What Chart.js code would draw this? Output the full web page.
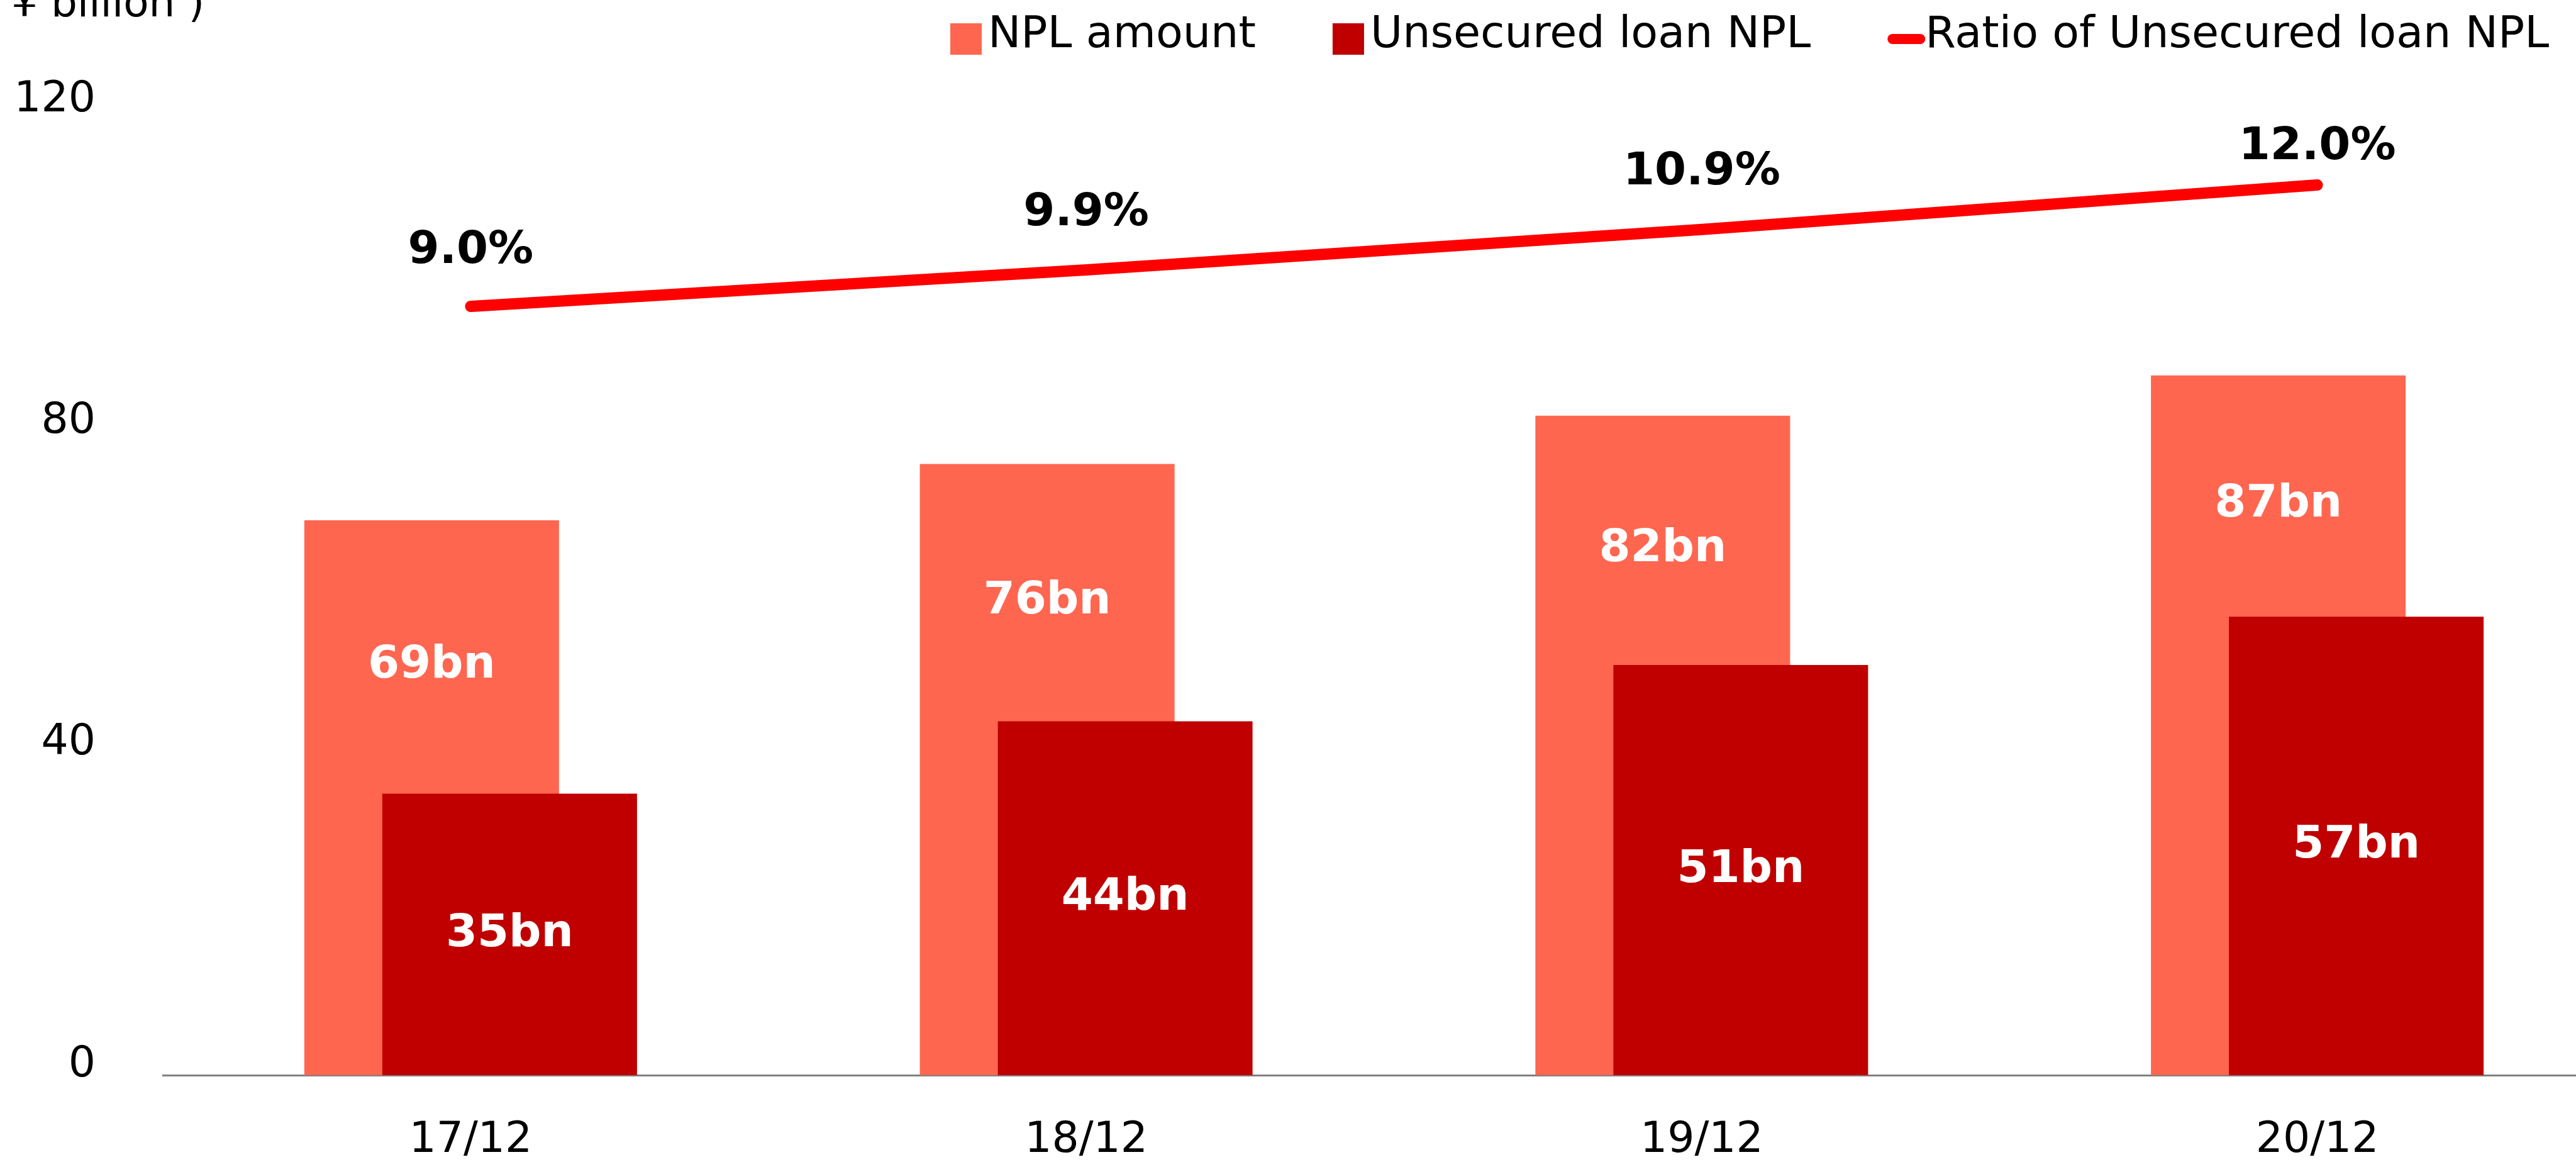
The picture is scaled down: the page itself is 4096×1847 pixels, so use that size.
<!DOCTYPE html>
<html>
<head>
<meta charset="utf-8">
<title>NPL amount</title>
<script src="https://cdn.jsdelivr.net/npm/chart.js@4.4.1/dist/chart.umd.min.js"></script>
<style>
  html, body { margin: 0; padding: 0; background: #fff; overflow: hidden; }
  /* plot runs a little past the right edge, as in the original slide */
  #wrap { width: 4175px; height: 1847px; }
</style>
</head>
<body>
<div id="wrap"><canvas id="nplChart"></canvas></div>
<script>
const categories = ['17/12', '18/12', '19/12', '20/12'];
const nplAmount = [69, 76, 82, 87];
const unsecuredNpl = [35, 44, 51, 57];
const unsecuredRatio = [9.0, 9.9, 10.9, 12.0];
const yTicks = [0, 40, 80, 120];
const seriesNames = ['NPL amount', 'Unsecured loan NPL', 'Ratio of Unsecured loan NPL'];
const yTitle = ['(', '¥ billion )'];

const FONT = "'DejaVu Sans', Verdana, sans-serif";
const colors = { npl: '#FF6650', unsecured: '#C00000', ratio: '#FF0000' };
// how far each % label sits above its point
const pctLift = [88, 90, 90, 60];

// draw datasets in index order so the right-hand bar covers the left one
const drawOrder = {
  id: 'drawOrder',
  beforeDatasetsDraw(chart) {
    chart.data.datasets.forEach((ds, i) => {
      if (chart.isDatasetVisible(i)) chart.getDatasetMeta(i).controller.draw();
    });
    return false;
  }
};

const labelsAndLegend = {
  id: 'labelsAndLegend',
  afterDraw(chart) {
    const ctx = chart.ctx;
    const npl = chart.getDatasetMeta(0).data;
    const uns = chart.getDatasetMeta(1).data;
    const pts = chart.getDatasetMeta(2).data;
    ctx.save();
    ctx.textAlign = 'center';
    ctx.textBaseline = 'middle';

    ctx.fillStyle = '#fff';
    ctx.font = `bold 72px ${FONT}`;
    npl.forEach((bar, i) => {
      ctx.fillText(nplAmount[i] + 'bn', bar.x, (bar.y + uns[i].y) / 2 + 14);
    });
    uns.forEach((bar, i) => {
      ctx.fillText(unsecuredNpl[i] + 'bn', bar.x, (bar.y + bar.base) / 2);
    });

    ctx.fillStyle = '#000';
    ctx.font = `bold 72px ${FONT}`;
    pts.forEach((p, i) => {
      ctx.fillText(unsecuredRatio[i].toFixed(1) + '%', p.x, p.y - pctLift[i]);
    });

    // legend
    ctx.textAlign = 'left';
    ctx.textBaseline = 'alphabetic';
    ctx.font = `70px ${FONT}`;
    let x = 1511;
    chart.data.datasets.forEach((ds) => {
      if (ds.type === 'line') {
        ctx.strokeStyle = ds.borderColor;
        ctx.lineWidth = 16;
        ctx.lineCap = 'round';
        ctx.beginPath();
        ctx.moveTo(x + 8, 62);
        ctx.lineTo(x + 52, 62);
        ctx.stroke();
      } else {
        ctx.fillStyle = ds.backgroundColor;
        ctx.fillRect(x, 37, 50, 50);
      }
      ctx.fillStyle = '#000';
      ctx.fillText(ds.label, x + 60, 75);
      x += 60 + ctx.measureText(ds.label).width + 122;
    });

    // unit title, its opening bracket falls off the left edge
    ctx.font = `66px ${FONT}`;
    ctx.textAlign = 'right';
    ctx.fillText(yTitle[0], -2, 26);
    ctx.textAlign = 'left';
    ctx.fillText(yTitle[1], 18, 26);
    ctx.restore();
  }
};

new Chart(document.getElementById('nplChart'), {
  data: {
    labels: categories,
    datasets: [
      {
        type: 'bar',
        label: seriesNames[0],
        data: nplAmount,
        backgroundColor: colors.npl,
        categoryPercentage: 0.2534,
        barPercentage: 3.266,
        yAxisID: 'y'
      },
      {
        type: 'bar',
        label: seriesNames[1],
        data: unsecuredNpl,
        backgroundColor: colors.unsecured,
        categoryPercentage: 0.2534,
        barPercentage: 3.266,
        yAxisID: 'y'
      },
      {
        type: 'line',
        label: seriesNames[2],
        data: unsecuredRatio,
        borderColor: colors.ratio,
        backgroundColor: colors.ratio,
        borderWidth: 18,
        borderCapStyle: 'round',
        pointRadius: 0,
        tension: 0,
        yAxisID: 'y1'
      }
    ]
  },
  options: {
    responsive: true,
    maintainAspectRatio: false,
    animation: false,
    layout: { padding: { top: 175, left: 0, right: 1, bottom: 0 } },
    plugins: {
      legend: { display: false },
      tooltip: { enabled: false }
    },
    scales: {
      x: {
        offset: true,
        grid: { display: false, drawTicks: false },
        border: { display: true, color: '#808080', width: 3 },
        ticks: {
          color: '#000',
          padding: 67,
          font: { family: FONT, size: 68, lineHeight: 1.09 }
        },
        afterFit: (axis) => { axis.height = 138; }
      },
      y: {
        min: 0,
        max: 120,
        grid: { display: false, drawTicks: false },
        border: { display: false },
        afterBuildTicks: (axis) => { axis.ticks = yTicks.map((v) => ({ value: v })); },
        afterFit: (axis) => {
          axis.width = 259;
          axis.paddingTop = 0;
          axis.paddingBottom = 0;
        },
        ticks: {
          color: '#000',
          padding: 107,
          labelOffset: -16,
          font: { family: FONT, size: 68 }
        }
      },
      y1: {
        display: false,
        min: -10,
        max: 13.85
      }
    }
  },
  plugins: [drawOrder, labelsAndLegend]
});
</script>
</body>
</html>
